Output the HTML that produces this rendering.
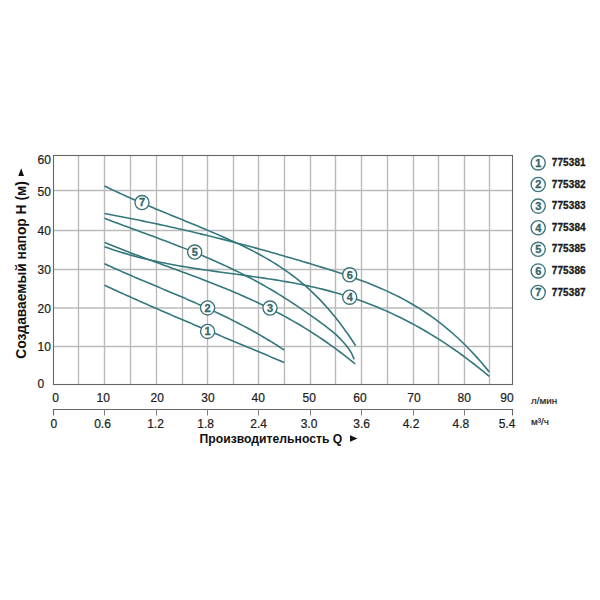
<!DOCTYPE html><html><head><meta charset="utf-8"><style>html,body{margin:0;padding:0;background:#fff;width:600px;height:600px;overflow:hidden}svg{display:block}</style></head><body><svg width="600" height="600" viewBox="0 0 600 600">
<rect width="600" height="600" fill="#fff"/>
<line x1="78.5" y1="155.5" x2="78.5" y2="384.5" stroke="#bbbbbb" stroke-width="1.4"/>
<line x1="104.5" y1="155.5" x2="104.5" y2="384.5" stroke="#bbbbbb" stroke-width="1.4"/>
<line x1="130.5" y1="155.5" x2="130.5" y2="384.5" stroke="#bbbbbb" stroke-width="1.4"/>
<line x1="156.5" y1="155.5" x2="156.5" y2="384.5" stroke="#bbbbbb" stroke-width="1.4"/>
<line x1="182.5" y1="155.5" x2="182.5" y2="384.5" stroke="#bbbbbb" stroke-width="1.4"/>
<line x1="207.5" y1="155.5" x2="207.5" y2="384.5" stroke="#bbbbbb" stroke-width="1.4"/>
<line x1="233.5" y1="155.5" x2="233.5" y2="384.5" stroke="#bbbbbb" stroke-width="1.4"/>
<line x1="258.5" y1="155.5" x2="258.5" y2="384.5" stroke="#bbbbbb" stroke-width="1.4"/>
<line x1="284.5" y1="155.5" x2="284.5" y2="384.5" stroke="#bbbbbb" stroke-width="1.4"/>
<line x1="310.5" y1="155.5" x2="310.5" y2="384.5" stroke="#bbbbbb" stroke-width="1.4"/>
<line x1="335.5" y1="155.5" x2="335.5" y2="384.5" stroke="#bbbbbb" stroke-width="1.4"/>
<line x1="361.5" y1="155.5" x2="361.5" y2="384.5" stroke="#bbbbbb" stroke-width="1.4"/>
<line x1="387.5" y1="155.5" x2="387.5" y2="384.5" stroke="#bbbbbb" stroke-width="1.4"/>
<line x1="413.5" y1="155.5" x2="413.5" y2="384.5" stroke="#bbbbbb" stroke-width="1.4"/>
<line x1="438.5" y1="155.5" x2="438.5" y2="384.5" stroke="#bbbbbb" stroke-width="1.4"/>
<line x1="464.5" y1="155.5" x2="464.5" y2="384.5" stroke="#bbbbbb" stroke-width="1.4"/>
<line x1="489.5" y1="155.5" x2="489.5" y2="384.5" stroke="#bbbbbb" stroke-width="1.4"/>
<line x1="53.5" y1="190.5" x2="512.5" y2="190.5" stroke="#bbbbbb" stroke-width="1.4"/>
<line x1="53.5" y1="230.5" x2="512.5" y2="230.5" stroke="#bbbbbb" stroke-width="1.4"/>
<line x1="53.5" y1="269.5" x2="512.5" y2="269.5" stroke="#bbbbbb" stroke-width="1.4"/>
<line x1="53.5" y1="308.0" x2="512.5" y2="308.0" stroke="#bbbbbb" stroke-width="1.4"/>
<line x1="53.5" y1="346.5" x2="512.5" y2="346.5" stroke="#bbbbbb" stroke-width="1.4"/>
<rect x="53.5" y="155.5" width="459.0" height="229.0" fill="none" stroke="#666" stroke-width="1.1"/>
<path d="M104.50,285.25 L106.32,286.09 L108.13,286.92 L109.95,287.76 L111.76,288.59 L113.58,289.42 L115.39,290.25 L117.21,291.08 L119.02,291.91 L120.84,292.73 L122.65,293.55 L124.47,294.37 L126.28,295.19 L128.10,296.00 L129.91,296.82 L131.73,297.63 L133.54,298.44 L135.36,299.25 L137.17,300.06 L138.99,300.86 L140.80,301.67 L142.62,302.47 L144.43,303.27 L146.25,304.07 L148.06,304.87 L149.88,305.66 L151.69,306.46 L153.51,307.25 L155.32,308.04 L157.14,308.83 L158.95,309.62 L160.77,310.41 L162.58,311.20 L164.40,311.98 L166.22,312.77 L168.03,313.55 L169.85,314.33 L171.66,315.11 L173.48,315.89 L175.29,316.67 L177.11,317.45 L178.92,318.23 L180.74,319.00 L182.55,319.77 L184.37,320.55 L186.18,321.32 L188.00,322.09 L189.81,322.86 L191.63,323.63 L193.44,324.40 L195.26,325.17 L197.07,325.94 L198.89,326.71 L200.70,327.47 L202.52,328.24 L204.33,329.00 L206.15,329.77 L207.96,330.53 L209.78,331.30 L211.59,332.06 L213.41,332.82 L215.22,333.58 L217.04,334.34 L218.85,335.11 L220.67,335.87 L222.48,336.63 L224.30,337.39 L226.12,338.15 L227.93,338.91 L229.75,339.67 L231.56,340.43 L233.38,341.18 L235.19,341.94 L237.01,342.70 L238.82,343.46 L240.64,344.22 L242.45,344.98 L244.27,345.74 L246.08,346.50 L247.90,347.26 L249.71,348.01 L251.53,348.77 L253.34,349.53 L255.16,350.29 L256.97,351.05 L258.79,351.81 L260.60,352.57 L262.42,353.33 L264.23,354.09 L266.05,354.85 L267.86,355.61 L269.68,356.38 L271.49,357.14 L273.31,357.90 L275.12,358.66 L276.94,359.43 L278.75,360.19 L280.57,360.96 L282.38,361.72 L284.20,362.49" fill="none" stroke="#34777c" stroke-width="1.6" stroke-linejoin="round"/>
<path d="M104.50,263.77 L106.32,264.60 L108.13,265.44 L109.95,266.26 L111.76,267.08 L113.58,267.90 L115.39,268.72 L117.21,269.52 L119.02,270.33 L120.84,271.13 L122.65,271.93 L124.47,272.72 L126.28,273.51 L128.10,274.30 L129.91,275.08 L131.73,275.86 L133.54,276.64 L135.36,277.41 L137.17,278.19 L138.99,278.96 L140.80,279.73 L142.62,280.50 L144.43,281.26 L146.25,282.03 L148.06,282.79 L149.88,283.55 L151.69,284.31 L153.51,285.08 L155.32,285.84 L157.14,286.60 L158.95,287.36 L160.77,288.12 L162.58,288.88 L164.40,289.64 L166.22,290.40 L168.03,291.16 L169.85,291.93 L171.66,292.69 L173.48,293.46 L175.29,294.22 L177.11,294.99 L178.92,295.76 L180.74,296.54 L182.55,297.31 L184.37,298.09 L186.18,298.87 L188.00,299.66 L189.81,300.44 L191.63,301.23 L193.44,302.02 L195.26,302.82 L197.07,303.62 L198.89,304.43 L200.70,305.23 L202.52,306.05 L204.33,306.86 L206.15,307.68 L207.96,308.51 L209.78,309.34 L211.59,310.18 L213.41,311.02 L215.22,311.87 L217.04,312.72 L218.85,313.58 L220.67,314.45 L222.48,315.32 L224.30,316.20 L226.12,317.08 L227.93,317.97 L229.75,318.87 L231.56,319.78 L233.38,320.69 L235.19,321.61 L237.01,322.54 L238.82,323.48 L240.64,324.42 L242.45,325.37 L244.27,326.34 L246.08,327.31 L247.90,328.28 L249.71,329.27 L251.53,330.27 L253.34,331.28 L255.16,332.29 L256.97,333.32 L258.79,334.35 L260.60,335.40 L262.42,336.46 L264.23,337.52 L266.05,338.60 L267.86,339.69 L269.68,340.79 L271.49,341.90 L273.31,343.02 L275.12,344.15 L276.94,345.30 L278.75,346.45 L280.57,347.62 L282.38,348.80 L284.20,350.00" fill="none" stroke="#34777c" stroke-width="1.6" stroke-linejoin="round"/>
<path d="M104.50,242.37 L107.03,243.42 L109.56,244.46 L112.10,245.49 L114.63,246.51 L117.16,247.52 L119.69,248.52 L122.23,249.52 L124.76,250.51 L127.29,251.49 L129.82,252.46 L132.36,253.43 L134.89,254.39 L137.42,255.35 L139.95,256.30 L142.48,257.25 L145.02,258.19 L147.55,259.13 L150.08,260.07 L152.61,261.00 L155.15,261.93 L157.68,262.86 L160.21,263.79 L162.74,264.72 L165.28,265.64 L167.81,266.57 L170.34,267.49 L172.87,268.42 L175.41,269.35 L177.94,270.28 L180.47,271.21 L183.00,272.14 L185.53,273.07 L188.07,274.01 L190.60,274.95 L193.13,275.90 L195.66,276.85 L198.20,277.81 L200.73,278.77 L203.26,279.73 L205.79,280.70 L208.33,281.68 L210.86,282.67 L213.39,283.66 L215.92,284.66 L218.45,285.67 L220.99,286.69 L223.52,287.71 L226.05,288.75 L228.58,289.79 L231.12,290.85 L233.65,291.92 L236.18,292.99 L238.71,294.08 L241.25,295.18 L243.78,296.30 L246.31,297.42 L248.84,298.56 L251.37,299.72 L253.91,300.88 L256.44,302.07 L258.97,303.26 L261.50,304.48 L264.04,305.70 L266.57,306.95 L269.10,308.21 L271.63,309.49 L274.17,310.78 L276.70,312.10 L279.23,313.43 L281.76,314.78 L284.29,316.15 L286.83,317.54 L289.36,318.95 L291.89,320.38 L294.42,321.83 L296.96,323.30 L299.49,324.79 L302.02,326.31 L304.55,327.85 L307.09,329.41 L309.62,330.99 L312.15,332.60 L314.68,334.23 L317.22,335.89 L319.75,337.57 L322.28,339.28 L324.81,341.01 L327.34,342.77 L329.88,344.56 L332.41,346.37 L334.94,348.22 L337.47,350.09 L340.01,351.99 L342.54,353.91 L345.07,355.87 L347.60,357.86 L350.14,359.87 L352.67,361.92 L355.20,364.00" fill="none" stroke="#34777c" stroke-width="1.6" stroke-linejoin="round"/>
<path d="M104.50,246.73 L108.39,248.11 L112.27,249.44 L116.16,250.72 L120.04,251.95 L123.93,253.13 L127.82,254.27 L131.70,255.37 L135.59,256.42 L139.47,257.43 L143.36,258.40 L147.24,259.34 L151.13,260.24 L155.02,261.10 L158.90,261.94 L162.79,262.74 L166.67,263.51 L170.56,264.26 L174.45,264.98 L178.33,265.67 L182.22,266.35 L186.10,267.00 L189.99,267.63 L193.87,268.24 L197.76,268.84 L201.65,269.43 L205.53,270.00 L209.42,270.56 L213.30,271.10 L217.19,271.65 L221.08,272.18 L224.96,272.71 L228.85,273.24 L232.73,273.76 L236.62,274.29 L240.51,274.82 L244.39,275.35 L248.28,275.88 L252.16,276.42 L256.05,276.98 L259.93,277.54 L263.82,278.11 L267.71,278.69 L271.59,279.29 L275.48,279.91 L279.36,280.54 L283.25,281.19 L287.14,281.87 L291.02,282.56 L294.91,283.28 L298.79,284.03 L302.68,284.81 L306.56,285.61 L310.45,286.45 L314.34,287.31 L318.22,288.22 L322.11,289.15 L325.99,290.13 L329.88,291.14 L333.77,292.20 L337.65,293.30 L341.54,294.44 L345.42,295.62 L349.31,296.86 L353.19,298.14 L357.08,299.46 L360.97,300.84 L364.85,302.26 L368.74,303.73 L372.62,305.25 L376.51,306.83 L380.40,308.45 L384.28,310.12 L388.17,311.84 L392.05,313.62 L395.94,315.45 L399.83,317.33 L403.71,319.26 L407.60,321.25 L411.48,323.29 L415.37,325.39 L419.25,327.54 L423.14,329.75 L427.03,332.01 L430.91,334.33 L434.80,336.71 L438.68,339.15 L442.57,341.64 L446.46,344.19 L450.34,346.81 L454.23,349.48 L458.11,352.21 L462.00,355.00 L465.88,357.86 L469.77,360.77 L473.66,363.75 L477.54,366.79 L481.43,369.90 L485.31,373.07 L489.20,376.30" fill="none" stroke="#34777c" stroke-width="1.6" stroke-linejoin="round"/>
<path d="M104.50,218.37 L107.02,219.33 L109.54,220.28 L112.07,221.22 L114.59,222.17 L117.11,223.11 L119.63,224.04 L122.16,224.98 L124.68,225.91 L127.20,226.84 L129.72,227.77 L132.24,228.69 L134.77,229.62 L137.29,230.55 L139.81,231.47 L142.33,232.40 L144.86,233.33 L147.38,234.26 L149.90,235.19 L152.42,236.12 L154.94,237.06 L157.47,238.00 L159.99,238.94 L162.51,239.89 L165.03,240.84 L167.56,241.79 L170.08,242.75 L172.60,243.72 L175.12,244.69 L177.64,245.66 L180.17,246.64 L182.69,247.63 L185.21,248.63 L187.73,249.63 L190.26,250.64 L192.78,251.67 L195.30,252.69 L197.82,253.73 L200.34,254.78 L202.87,255.84 L205.39,256.90 L207.91,257.98 L210.43,259.07 L212.96,260.17 L215.48,261.29 L218.00,262.41 L220.52,263.55 L223.04,264.70 L225.57,265.86 L228.09,267.04 L230.61,268.23 L233.13,269.44 L235.66,270.66 L238.18,271.89 L240.70,273.15 L243.22,274.41 L245.74,275.70 L248.27,277.00 L250.79,278.32 L253.31,279.66 L255.83,281.01 L258.36,282.38 L260.88,283.78 L263.40,285.19 L265.92,286.62 L268.44,288.07 L270.97,289.54 L273.49,291.03 L276.01,292.54 L278.53,294.08 L281.06,295.63 L283.58,297.21 L286.10,298.81 L288.62,300.44 L291.14,302.08 L293.67,303.75 L296.19,305.43 L298.71,307.13 L301.23,308.85 L303.76,310.59 L306.28,312.34 L308.80,314.10 L311.32,315.88 L313.84,317.66 L316.37,319.46 L318.89,321.27 L321.41,323.09 L323.93,324.93 L326.46,326.81 L328.98,328.76 L331.50,330.79 L334.02,332.93 L336.54,335.20 L339.07,337.62 L341.59,340.22 L344.11,343.01 L346.63,346.02 L349.16,349.31 L351.68,353.45 L354.20,359.32" fill="none" stroke="#34777c" stroke-width="1.6" stroke-linejoin="round"/>
<path d="M104.50,213.55 L108.39,214.27 L112.27,214.99 L116.16,215.73 L120.04,216.47 L123.93,217.22 L127.82,217.98 L131.70,218.75 L135.59,219.52 L139.47,220.31 L143.36,221.10 L147.24,221.91 L151.13,222.72 L155.02,223.54 L158.90,224.37 L162.79,225.21 L166.67,226.06 L170.56,226.92 L174.45,227.78 L178.33,228.66 L182.22,229.54 L186.10,230.44 L189.99,231.34 L193.87,232.25 L197.76,233.17 L201.65,234.10 L205.53,235.04 L209.42,235.99 L213.30,236.95 L217.19,237.92 L221.08,238.90 L224.96,239.88 L228.85,240.88 L232.73,241.89 L236.62,242.90 L240.51,243.93 L244.39,244.96 L248.28,246.00 L252.16,247.06 L256.05,248.12 L259.93,249.19 L263.82,250.26 L267.71,251.35 L271.59,252.45 L275.48,253.55 L279.36,254.66 L283.25,255.78 L287.14,256.90 L291.02,258.04 L294.91,259.18 L298.79,260.33 L302.68,261.48 L306.56,262.64 L310.45,263.81 L314.34,264.99 L318.22,266.17 L322.11,267.37 L325.99,268.58 L329.88,269.80 L333.77,271.04 L337.65,272.30 L341.54,273.59 L345.42,274.89 L349.31,276.23 L353.19,277.59 L357.08,278.98 L360.97,280.41 L364.85,281.87 L368.74,283.37 L372.62,284.92 L376.51,286.52 L380.40,288.16 L384.28,289.87 L388.17,291.63 L392.05,293.46 L395.94,295.36 L399.83,297.33 L403.71,299.38 L407.60,301.50 L411.48,303.71 L415.37,306.01 L419.25,308.40 L423.14,310.89 L427.03,313.47 L430.91,316.16 L434.80,318.96 L438.68,321.88 L442.57,324.91 L446.46,328.06 L450.34,331.34 L454.23,334.74 L458.11,338.28 L462.00,341.96 L465.88,345.77 L469.77,349.74 L473.66,353.85 L477.54,358.12 L481.43,362.54 L485.31,367.13 L489.20,371.88" fill="none" stroke="#34777c" stroke-width="1.6" stroke-linejoin="round"/>
<path d="M104.50,185.99 L107.04,187.23 L109.57,188.45 L112.11,189.66 L114.65,190.86 L117.18,192.05 L119.72,193.22 L122.25,194.38 L124.79,195.53 L127.33,196.67 L129.86,197.80 L132.40,198.92 L134.94,200.03 L137.47,201.13 L140.01,202.23 L142.55,203.31 L145.08,204.39 L147.62,205.47 L150.15,206.53 L152.69,207.60 L155.23,208.65 L157.76,209.71 L160.30,210.75 L162.84,211.80 L165.37,212.84 L167.91,213.88 L170.45,214.92 L172.98,215.96 L175.52,216.99 L178.05,218.03 L180.59,219.06 L183.13,220.10 L185.66,221.14 L188.20,222.18 L190.74,223.22 L193.27,224.26 L195.81,225.31 L198.35,226.36 L200.88,227.42 L203.42,228.48 L205.95,229.55 L208.49,230.62 L211.03,231.70 L213.56,232.78 L216.10,233.88 L218.64,234.98 L221.17,236.09 L223.71,237.21 L226.25,238.33 L228.78,239.47 L231.32,240.62 L233.85,241.78 L236.39,242.95 L238.93,244.14 L241.46,245.34 L244.00,246.56 L246.54,247.79 L249.07,249.05 L251.61,250.33 L254.15,251.63 L256.68,252.96 L259.22,254.32 L261.75,255.70 L264.29,257.12 L266.83,258.57 L269.36,260.05 L271.90,261.57 L274.44,263.13 L276.97,264.73 L279.51,266.37 L282.05,268.05 L284.58,269.78 L287.12,271.55 L289.65,273.38 L292.19,275.25 L294.73,277.18 L297.26,279.16 L299.80,281.20 L302.34,283.31 L304.87,285.47 L307.41,287.70 L309.95,290.00 L312.48,292.37 L315.02,294.82 L317.55,297.34 L320.09,299.93 L322.63,302.61 L325.16,305.36 L327.70,308.20 L330.24,311.13 L332.77,314.15 L335.31,317.26 L337.85,320.46 L340.38,323.76 L342.92,327.16 L345.45,330.66 L347.99,334.26 L350.53,337.97 L353.06,341.78 L355.60,345.71" fill="none" stroke="#34777c" stroke-width="1.6" stroke-linejoin="round"/>
<circle cx="207.6" cy="331.4" r="7.05" fill="#fff" stroke="#3b7276" stroke-width="1.35"/>
<text x="207.6" y="335.2" text-anchor="middle" font-family="Liberation Sans" font-size="11" font-weight="bold" fill="#356569" stroke="#356569" stroke-width="0.3">1</text>
<circle cx="207.6" cy="307.9" r="7.05" fill="#fff" stroke="#3b7276" stroke-width="1.35"/>
<text x="207.6" y="311.7" text-anchor="middle" font-family="Liberation Sans" font-size="11" font-weight="bold" fill="#356569" stroke="#356569" stroke-width="0.3">2</text>
<circle cx="270" cy="308" r="7.05" fill="#fff" stroke="#3b7276" stroke-width="1.35"/>
<text x="270" y="311.8" text-anchor="middle" font-family="Liberation Sans" font-size="11" font-weight="bold" fill="#356569" stroke="#356569" stroke-width="0.3">3</text>
<circle cx="349.7" cy="297.2" r="7.05" fill="#fff" stroke="#3b7276" stroke-width="1.35"/>
<text x="349.7" y="301.0" text-anchor="middle" font-family="Liberation Sans" font-size="11" font-weight="bold" fill="#356569" stroke="#356569" stroke-width="0.3">4</text>
<circle cx="194.7" cy="252" r="7.05" fill="#fff" stroke="#3b7276" stroke-width="1.35"/>
<text x="194.7" y="255.8" text-anchor="middle" font-family="Liberation Sans" font-size="11" font-weight="bold" fill="#356569" stroke="#356569" stroke-width="0.3">5</text>
<circle cx="349.7" cy="274.8" r="7.05" fill="#fff" stroke="#3b7276" stroke-width="1.35"/>
<text x="349.7" y="278.6" text-anchor="middle" font-family="Liberation Sans" font-size="11" font-weight="bold" fill="#356569" stroke="#356569" stroke-width="0.3">6</text>
<circle cx="142" cy="202.5" r="7.05" fill="#fff" stroke="#3b7276" stroke-width="1.35"/>
<text x="142" y="206.3" text-anchor="middle" font-family="Liberation Sans" font-size="11" font-weight="bold" fill="#356569" stroke="#356569" stroke-width="0.3">7</text>
<text x="37.6" y="388.2" font-family="Liberation Sans" font-size="12" fill="#1c1c1c" stroke="#1c1c1c" stroke-width="0.22">0</text>
<text x="37.6" y="351.3" font-family="Liberation Sans" font-size="12" fill="#1c1c1c" stroke="#1c1c1c" stroke-width="0.22">10</text>
<text x="37.6" y="312.6" font-family="Liberation Sans" font-size="12" fill="#1c1c1c" stroke="#1c1c1c" stroke-width="0.22">20</text>
<text x="37.6" y="273.8" font-family="Liberation Sans" font-size="12" fill="#1c1c1c" stroke="#1c1c1c" stroke-width="0.22">30</text>
<text x="37.6" y="234.7" font-family="Liberation Sans" font-size="12" fill="#1c1c1c" stroke="#1c1c1c" stroke-width="0.22">40</text>
<text x="37.6" y="195.5" font-family="Liberation Sans" font-size="12" fill="#1c1c1c" stroke="#1c1c1c" stroke-width="0.22">50</text>
<text x="37.6" y="163.8" font-family="Liberation Sans" font-size="12" fill="#1c1c1c" stroke="#1c1c1c" stroke-width="0.22">60</text>
<text x="55.5" y="401.7" text-anchor="middle" font-family="Liberation Sans" font-size="12" fill="#1c1c1c" stroke="#1c1c1c" stroke-width="0.22">0</text>
<text x="103.3" y="401.7" text-anchor="middle" font-family="Liberation Sans" font-size="12" fill="#1c1c1c" stroke="#1c1c1c" stroke-width="0.22">10</text>
<text x="157.3" y="401.7" text-anchor="middle" font-family="Liberation Sans" font-size="12" fill="#1c1c1c" stroke="#1c1c1c" stroke-width="0.22">20</text>
<text x="208" y="401.7" text-anchor="middle" font-family="Liberation Sans" font-size="12" fill="#1c1c1c" stroke="#1c1c1c" stroke-width="0.22">30</text>
<text x="258.2" y="401.7" text-anchor="middle" font-family="Liberation Sans" font-size="12" fill="#1c1c1c" stroke="#1c1c1c" stroke-width="0.22">40</text>
<text x="309.2" y="401.7" text-anchor="middle" font-family="Liberation Sans" font-size="12" fill="#1c1c1c" stroke="#1c1c1c" stroke-width="0.22">50</text>
<text x="359.9" y="401.7" text-anchor="middle" font-family="Liberation Sans" font-size="12" fill="#1c1c1c" stroke="#1c1c1c" stroke-width="0.22">60</text>
<text x="414" y="401.7" text-anchor="middle" font-family="Liberation Sans" font-size="12" fill="#1c1c1c" stroke="#1c1c1c" stroke-width="0.22">70</text>
<text x="464.2" y="401.7" text-anchor="middle" font-family="Liberation Sans" font-size="12" fill="#1c1c1c" stroke="#1c1c1c" stroke-width="0.22">80</text>
<text x="507" y="401.7" text-anchor="middle" font-family="Liberation Sans" font-size="12" fill="#1c1c1c" stroke="#1c1c1c" stroke-width="0.22">90</text>
<path d="M53.5,415.5 V409.5 H512.5 V415.5" fill="none" stroke="#666" stroke-width="1.1"/>
<line x1="104.5" y1="409.5" x2="104.5" y2="415.5" stroke="#808080" stroke-width="1"/>
<line x1="156.5" y1="409.5" x2="156.5" y2="415.5" stroke="#808080" stroke-width="1"/>
<line x1="207.5" y1="409.5" x2="207.5" y2="415.5" stroke="#808080" stroke-width="1"/>
<line x1="258.5" y1="409.5" x2="258.5" y2="415.5" stroke="#808080" stroke-width="1"/>
<line x1="310.5" y1="409.5" x2="310.5" y2="415.5" stroke="#808080" stroke-width="1"/>
<line x1="361.5" y1="409.5" x2="361.5" y2="415.5" stroke="#808080" stroke-width="1"/>
<line x1="413.5" y1="409.5" x2="413.5" y2="415.5" stroke="#808080" stroke-width="1"/>
<line x1="464.5" y1="409.5" x2="464.5" y2="415.5" stroke="#808080" stroke-width="1"/>
<text x="53.8" y="427.8" text-anchor="middle" font-family="Liberation Sans" font-size="12" fill="#1c1c1c" stroke="#1c1c1c" stroke-width="0.22">0</text>
<text x="102.5" y="427.8" text-anchor="middle" font-family="Liberation Sans" font-size="12" fill="#1c1c1c" stroke="#1c1c1c" stroke-width="0.22">0.6</text>
<text x="155.5" y="427.8" text-anchor="middle" font-family="Liberation Sans" font-size="12" fill="#1c1c1c" stroke="#1c1c1c" stroke-width="0.22">1.2</text>
<text x="205.7" y="427.8" text-anchor="middle" font-family="Liberation Sans" font-size="12" fill="#1c1c1c" stroke="#1c1c1c" stroke-width="0.22">1.8</text>
<text x="258.7" y="427.8" text-anchor="middle" font-family="Liberation Sans" font-size="12" fill="#1c1c1c" stroke="#1c1c1c" stroke-width="0.22">2.4</text>
<text x="309" y="427.8" text-anchor="middle" font-family="Liberation Sans" font-size="12" fill="#1c1c1c" stroke="#1c1c1c" stroke-width="0.22">3.0</text>
<text x="361.7" y="427.8" text-anchor="middle" font-family="Liberation Sans" font-size="12" fill="#1c1c1c" stroke="#1c1c1c" stroke-width="0.22">3.6</text>
<text x="411" y="427.8" text-anchor="middle" font-family="Liberation Sans" font-size="12" fill="#1c1c1c" stroke="#1c1c1c" stroke-width="0.22">4.2</text>
<text x="460.8" y="427.8" text-anchor="middle" font-family="Liberation Sans" font-size="12" fill="#1c1c1c" stroke="#1c1c1c" stroke-width="0.22">4.8</text>
<text x="507" y="427.8" text-anchor="middle" font-family="Liberation Sans" font-size="12" fill="#1c1c1c" stroke="#1c1c1c" stroke-width="0.22">5.4</text>
<text x="531" y="404" font-family="Liberation Sans" font-size="9.8" fill="#1c1c1c" stroke="#1c1c1c" stroke-width="0.2">л/мин</text>
<text x="531" y="424.7" font-family="Liberation Sans" font-size="9.8" fill="#1c1c1c" stroke="#1c1c1c" stroke-width="0.2">м³/ч</text>
<text x="199.5" y="443.3" font-family="Liberation Sans" font-weight="bold" font-size="12.2" fill="#111">Производительность Q</text>
<path d="M350,435.3 L357.5,438.5 L350,441.7 Z" fill="#111"/>
<text transform="translate(25.5,358.7) rotate(-90)" x="0" y="0" font-family="Liberation Sans" font-weight="bold" font-size="13.8" fill="#111">Создаваемый напор H (м)</text>
<path d="M18.3,176 L21.15,168.3 L24,176 Z" fill="#111"/>
<circle cx="538.2" cy="162.9" r="7.1" fill="#fff" stroke="#3b7579" stroke-width="1.35"/>
<text x="538.2" y="166.7" text-anchor="middle" font-family="Liberation Sans" font-size="11" font-weight="bold" fill="#356569" stroke="#356569" stroke-width="0.3">1</text>
<text x="551.8" y="165.9" font-family="Liberation Sans" font-weight="bold" font-size="10" letter-spacing="0.1" fill="#1a1a1a" stroke="#1a1a1a" stroke-width="0.3">775381</text>
<circle cx="538.2" cy="184.5" r="7.1" fill="#fff" stroke="#3b7579" stroke-width="1.35"/>
<text x="538.2" y="188.3" text-anchor="middle" font-family="Liberation Sans" font-size="11" font-weight="bold" fill="#356569" stroke="#356569" stroke-width="0.3">2</text>
<text x="551.8" y="187.5" font-family="Liberation Sans" font-weight="bold" font-size="10" letter-spacing="0.1" fill="#1a1a1a" stroke="#1a1a1a" stroke-width="0.3">775382</text>
<circle cx="538.2" cy="206.1" r="7.1" fill="#fff" stroke="#3b7579" stroke-width="1.35"/>
<text x="538.2" y="209.9" text-anchor="middle" font-family="Liberation Sans" font-size="11" font-weight="bold" fill="#356569" stroke="#356569" stroke-width="0.3">3</text>
<text x="551.8" y="209.1" font-family="Liberation Sans" font-weight="bold" font-size="10" letter-spacing="0.1" fill="#1a1a1a" stroke="#1a1a1a" stroke-width="0.3">775383</text>
<circle cx="538.2" cy="227.7" r="7.1" fill="#fff" stroke="#3b7579" stroke-width="1.35"/>
<text x="538.2" y="231.5" text-anchor="middle" font-family="Liberation Sans" font-size="11" font-weight="bold" fill="#356569" stroke="#356569" stroke-width="0.3">4</text>
<text x="551.8" y="230.7" font-family="Liberation Sans" font-weight="bold" font-size="10" letter-spacing="0.1" fill="#1a1a1a" stroke="#1a1a1a" stroke-width="0.3">775384</text>
<circle cx="538.2" cy="249.3" r="7.1" fill="#fff" stroke="#3b7579" stroke-width="1.35"/>
<text x="538.2" y="253.1" text-anchor="middle" font-family="Liberation Sans" font-size="11" font-weight="bold" fill="#356569" stroke="#356569" stroke-width="0.3">5</text>
<text x="551.8" y="252.3" font-family="Liberation Sans" font-weight="bold" font-size="10" letter-spacing="0.1" fill="#1a1a1a" stroke="#1a1a1a" stroke-width="0.3">775385</text>
<circle cx="538.2" cy="270.9" r="7.1" fill="#fff" stroke="#3b7579" stroke-width="1.35"/>
<text x="538.2" y="274.7" text-anchor="middle" font-family="Liberation Sans" font-size="11" font-weight="bold" fill="#356569" stroke="#356569" stroke-width="0.3">6</text>
<text x="551.8" y="273.9" font-family="Liberation Sans" font-weight="bold" font-size="10" letter-spacing="0.1" fill="#1a1a1a" stroke="#1a1a1a" stroke-width="0.3">775386</text>
<circle cx="538.2" cy="292.5" r="7.1" fill="#fff" stroke="#3b7579" stroke-width="1.35"/>
<text x="538.2" y="296.3" text-anchor="middle" font-family="Liberation Sans" font-size="11" font-weight="bold" fill="#356569" stroke="#356569" stroke-width="0.3">7</text>
<text x="551.8" y="295.5" font-family="Liberation Sans" font-weight="bold" font-size="10" letter-spacing="0.1" fill="#1a1a1a" stroke="#1a1a1a" stroke-width="0.3">775387</text>
</svg></body></html>
